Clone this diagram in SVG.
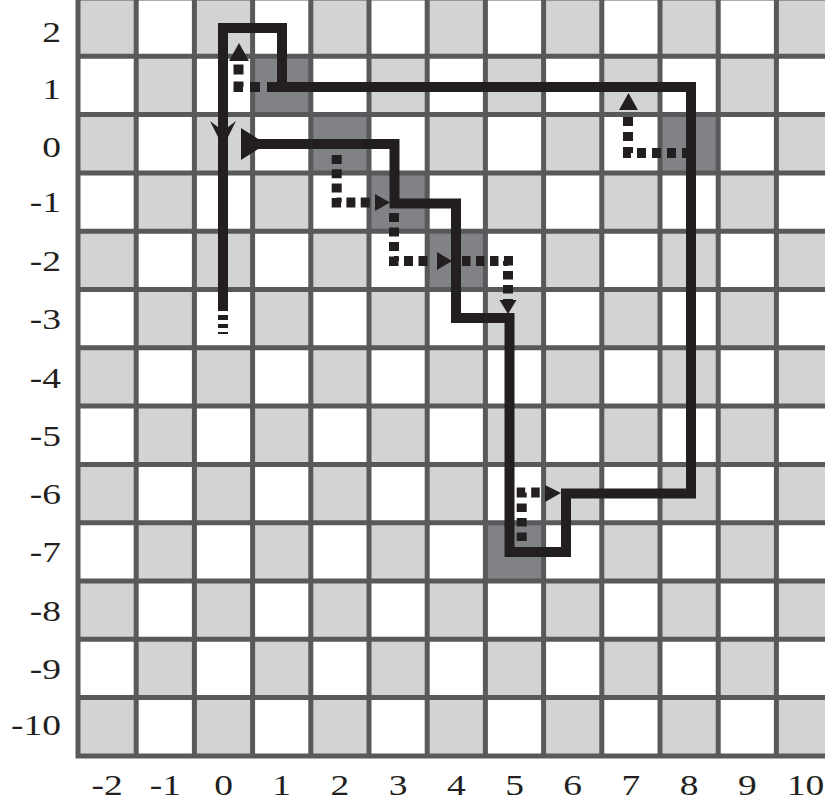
<svg xmlns="http://www.w3.org/2000/svg" width="825" height="803" viewBox="0 0 825 803">
<defs>
<style>
.lbl{font-family:"Liberation Serif","Times New Roman",serif;font-size:30px;fill:#231f20}
.xl{text-anchor:middle}
.yl{text-anchor:end}
.grid{fill:none;stroke:#58595b;stroke-width:5;stroke-linecap:square}
.dark{fill:#808285}
.solid{fill:none;stroke:#231f20;stroke-width:10;stroke-linejoin:miter}
.dot{fill:none;stroke:#231f20;stroke-width:10;stroke-linejoin:miter;stroke-linecap:butt}
.head{fill:#231f20}
</style>
<pattern id="chk" patternUnits="userSpaceOnUse" x="78" y="-2" width="116.4" height="116.6">
<rect width="58.2" height="58.3" fill="#d1d3d4"/>
<rect x="58.2" y="58.3" width="58.2" height="58.3" fill="#d1d3d4"/>
</pattern>
</defs>
<rect width="825" height="803" fill="#ffffff"/>
<g id="board">
<rect x="78" y="-2" width="756.6" height="757.9" fill="url(#chk)"/>
<rect class="dark" x="252.6" y="56.3" width="58.2" height="58.3"/>
<rect class="dark" x="310.8" y="114.6" width="58.2" height="58.3"/>
<rect class="dark" x="369" y="172.9" width="58.2" height="58.3"/>
<rect class="dark" x="427.2" y="231.2" width="58.2" height="58.3"/>
<rect class="dark" x="660" y="114.6" width="58.2" height="58.3"/>
<rect class="dark" x="485.4" y="522.7" width="58.2" height="58.3"/>
<path class="grid" d="M78 -2V755.9M136.2 -2V755.9M194.4 -2V755.9M252.6 -2V755.9M310.8 -2V755.9M369 -2V755.9M427.2 -2V755.9M485.4 -2V755.9M543.6 -2V755.9M601.8 -2V755.9M660 -2V755.9M718.2 -2V755.9M776.4 -2V755.9M834.6 -2V755.9M78 -2H834.6M78 56.3H834.6M78 114.6H834.6M78 172.9H834.6M78 231.2H834.6M78 289.5H834.6M78 347.8H834.6M78 406.1H834.6M78 464.4H834.6M78 522.7H834.6M78 581H834.6M78 639.3H834.6M78 697.6H834.6M78 755.9H834.6"/>
</g>
<g id="y-axis">
<text class="lbl yl" transform="translate(61 42) scale(1.25 1)">2</text>
<text class="lbl yl" transform="translate(61 98.5) scale(1.25 1)">1</text>
<text class="lbl yl" transform="translate(61 156.5) scale(1.25 1)">0</text>
<text class="lbl yl" transform="translate(61 212) scale(1.25 1)">-1</text>
<text class="lbl yl" transform="translate(61 271) scale(1.25 1)">-2</text>
<text class="lbl yl" transform="translate(61 329) scale(1.25 1)">-3</text>
<text class="lbl yl" transform="translate(61 387.5) scale(1.25 1)">-4</text>
<text class="lbl yl" transform="translate(61 445.5) scale(1.25 1)">-5</text>
<text class="lbl yl" transform="translate(61 504) scale(1.25 1)">-6</text>
<text class="lbl yl" transform="translate(61 562) scale(1.25 1)">-7</text>
<text class="lbl yl" transform="translate(61 620.5) scale(1.25 1)">-8</text>
<text class="lbl yl" transform="translate(61 678.5) scale(1.25 1)">-9</text>
<text class="lbl yl" transform="translate(61 735) scale(1.25 1)">-10</text>
</g>
<g id="x-axis">
<text class="lbl xl" transform="translate(107.1 795) scale(1.25 1)">-2</text>
<text class="lbl xl" transform="translate(165.3 795) scale(1.25 1)">-1</text>
<text class="lbl xl" transform="translate(223.5 795) scale(1.25 1)">0</text>
<text class="lbl xl" transform="translate(281.7 795) scale(1.25 1)">1</text>
<text class="lbl xl" transform="translate(339.9 795) scale(1.25 1)">2</text>
<text class="lbl xl" transform="translate(398.1 795) scale(1.25 1)">3</text>
<text class="lbl xl" transform="translate(456.3 795) scale(1.25 1)">4</text>
<text class="lbl xl" transform="translate(514.5 795) scale(1.25 1)">5</text>
<text class="lbl xl" transform="translate(572.7 795) scale(1.25 1)">6</text>
<text class="lbl xl" transform="translate(630.9 795) scale(1.25 1)">7</text>
<text class="lbl xl" transform="translate(689.1 795) scale(1.25 1)">8</text>
<text class="lbl xl" transform="translate(747.3 795) scale(1.25 1)">9</text>
<text class="lbl xl" transform="translate(805.5 795) scale(1.25 1)">10</text>
</g>
<g id="connectors">
<path id="route" class="solid" d="M258 144H394.5V203.5H456V318H509.5V552H566V493.5H691V87H282V28H223V311"/>
<polygon id="route-start" class="head" points="241,128 241,160 266,144"/>
<polygon id="route-arrow" class="head" points="210,121 223,147 236,121 223,131"/>
<rect class="head" x="218" y="315" width="10" height="5"/>
<rect class="head" x="218" y="324" width="10" height="4"/>
<rect class="head" x="218" y="332" width="10" height="2"/>
<path class="dot" stroke-dasharray="10 7" d="M277 87H238.5V61"/>
<polygon class="head" points="229,61 249,61 239,43"/>
<path class="dot" stroke-dasharray="9 5.3" d="M336.7 155V202.5H376"/>
<polygon class="head" points="375,194 375,211 390,202.5"/>
<path class="dot" stroke-dasharray="9 5.5" d="M394 213V261H428"/>
<polygon class="head" points="437,252 437,270 452,261"/>
<path class="dot" stroke-dasharray="8.5 5.5" d="M462 261H508V300"/>
<polygon class="head" points="499.5,300 516.5,300 508,314"/>
<path class="dot" stroke-dasharray="9 6" stroke-dashoffset="5" d="M686 153H628V111"/>
<polygon class="head" points="619,110 638,110 628.5,93"/>
<path class="dot" stroke-dasharray="8.5 6" d="M521.7 541V492.5H545"/>
<polygon class="head" points="545,485 545,502 561,493"/>
</g>
</svg>
